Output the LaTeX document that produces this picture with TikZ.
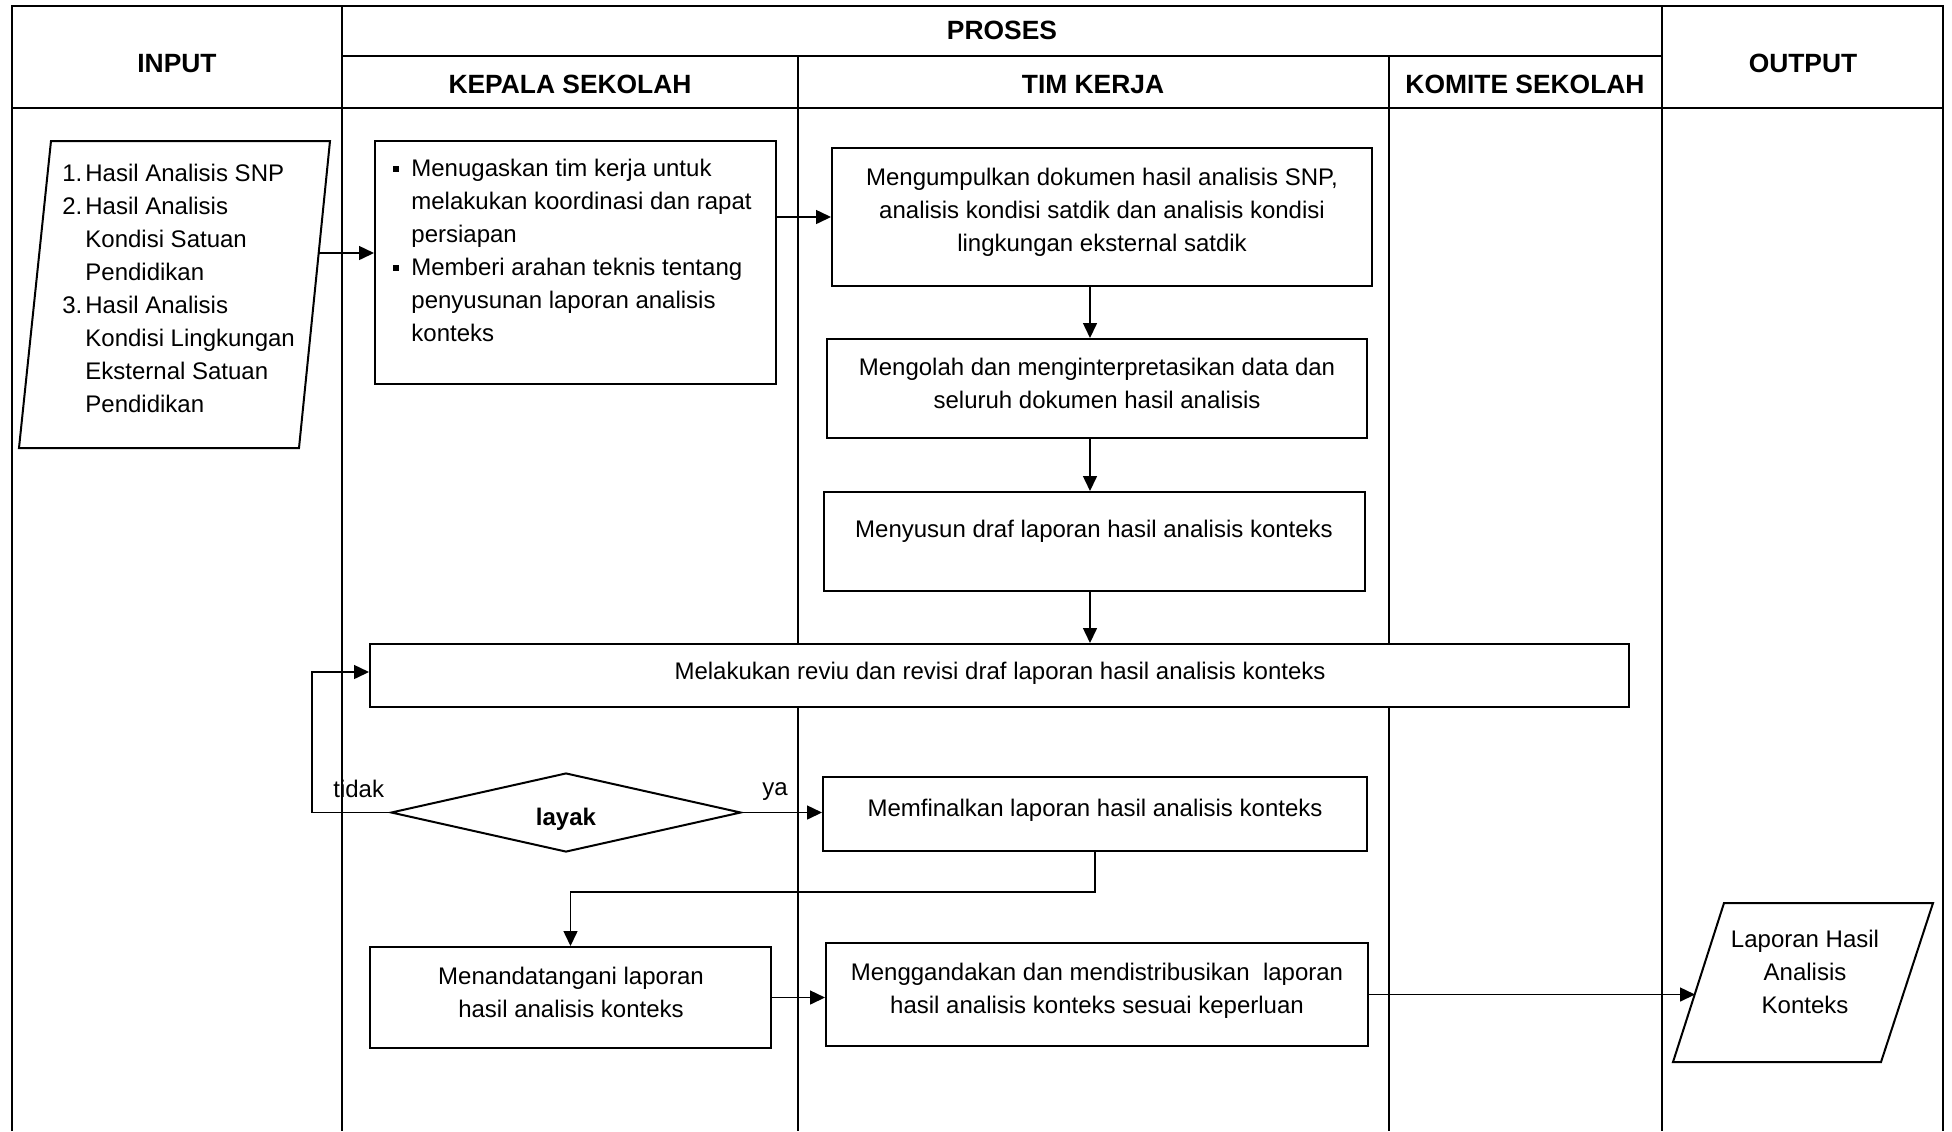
\documentclass[tikz,border=0pt]{standalone}
\usepackage{fontspec}
\setmainfont{Liberation Sans}
\usetikzlibrary{arrows.meta,shapes.geometric,fit}
\newcommand{\sqbul}{\rule[2.2pt]{3pt}{3pt}}
\begin{document}
\begin{tikzpicture}[x=0.5pt,y=-0.5pt,
  gridline/.style={line width=1.3pt},
  box/.style={draw, line width=1pt, fill=white, inner sep=0pt},
  arr/.style={line width=0.75pt, -{Triangle[length=7.5pt,width=7pt]}},
  txt/.style={inner sep=0pt, font=\fontsize{12}{16.5}\selectfont},
  hdr/.style={inner sep=0pt, font=\fontsize{13.2}{15}\selectfont\bfseries, anchor=base},
]
\useasboundingbox (0,0) rectangle (1952,1131);
\fill[white] (0,0) rectangle (1952,1131);

% table grid
\draw[gridline] (12,1131) -- (12,6) -- (1943,6) -- (1943,1131);
\draw[gridline] (12,108) -- (1943,108);
\draw[gridline] (342,56) -- (1662,56);
\draw[gridline] (342,6) -- (342,1131);
\draw[gridline] (1662,6) -- (1662,1131);
\draw[gridline] (798,56) -- (798,1131);
\draw[gridline] (1389,56) -- (1389,1131);

% headers
\node[hdr] (hin) at (177,72) {INPUT};
\node[hdr] (hpr) at (1002,39) {PROSES};
\node[hdr] (hks) at (570,93) {KEPALA SEKOLAH};
\node[hdr] (htk) at (1093,93) {TIM KERJA};
\node[hdr] (hkm) at (1525,93) {KOMITE SEKOLAH};
\node[hdr] (hout) at (1803,72) {OUTPUT};

% input parallelogram
\draw[line width=1pt, fill=white] (51,141) -- (330,141) -- (299,448) -- (19,448) -- cycle;
\coordinate (inA) at (319,253);
\node[txt, anchor=base west] (intext) at (62,181) {\begin{tabular}[t]{@{}l@{}}
\makebox[11.5pt][l]{1.}Hasil Analisis SNP\\
\makebox[11.5pt][l]{2.}Hasil Analisis\\
\hspace*{11.5pt}Kondisi Satuan\\
\hspace*{11.5pt}Pendidikan\\
\makebox[11.5pt][l]{3.}Hasil Analisis\\
\hspace*{11.5pt}Kondisi Lingkungan\\
\hspace*{11.5pt}Eksternal Satuan\\
\hspace*{11.5pt}Pendidikan
\end{tabular}};

% kepala sekolah box
\node[box, fit={(375,141)(776,384)}] (k1) {};
\node[txt, anchor=base west] (k1t) at (393,176) {\begin{tabular}[t]{@{}l@{}}
\makebox[9pt][l]{\sqbul}Menugaskan tim kerja untuk\\
\hspace*{9pt}melakukan koordinasi dan rapat\\
\hspace*{9pt}persiapan\\
\makebox[9pt][l]{\sqbul}Memberi arahan teknis tentang\\
\hspace*{9pt}penyusunan laporan analisis\\
\hspace*{9pt}konteks
\end{tabular}};

% tim kerja boxes
\node[box, fit={(832,148)(1372,286)}] (t1) {};
\node[txt, anchor=base] (t1t) at (1102,185) {\begin{tabular}[t]{@{}c@{}}
Mengumpulkan dokumen hasil analisis SNP,\\
analisis kondisi satdik dan analisis kondisi\\
lingkungan eksternal satdik
\end{tabular}};

\node[box, fit={(827,339)(1367,438)}] (t2) {};
\node[txt, anchor=base] (t2t) at (1097,375) {\begin{tabular}[t]{@{}c@{}}
Mengolah dan menginterpretasikan data dan\\
seluruh dokumen hasil analisis
\end{tabular}};

\node[box, fit={(824,492)(1365,591)}] (t3) {};
\node[txt, anchor=base] (t3t) at (1094,537) {Menyusun draf laporan hasil analisis konteks};

% review box
\node[box, fit={(370,644)(1629,707)}] (rev) {};
\node[txt, anchor=base] (revt) at (1000,679) {Melakukan reviu dan revisi draf laporan hasil analisis konteks};

% decision
\node[draw, diamond, line width=1pt, fill=white, minimum width=175pt, minimum height=39.5pt, inner sep=0pt] (d) at (566,812.5) {};
\node[txt, font=\fontsize{12}{16.5}\selectfont\bfseries, anchor=base] (dl) at (566,825) {layak};
\node[txt, anchor=base west] (tl) at (333,797) {tidak};
\node[txt, anchor=base west] (yl) at (762,795) {ya};

% finalize
\node[box, fit={(823,777)(1367,851)}] (fin) {};
\node[txt, anchor=base] (fint) at (1095,816) {Memfinalkan laporan hasil analisis konteks};

% sign
\node[box, fit={(370,947)(771,1048)}] (ttd) {};
\node[txt, anchor=base] (ttdt) at (571,984) {\begin{tabular}[t]{@{}c@{}}
Menandatangani laporan\\
hasil analisis konteks
\end{tabular}};

% distribute
\node[box, fit={(826,943)(1368,1046)}] (dist) {};
\node[txt, anchor=base] (distt) at (1097,980) {\begin{tabular}[t]{@{}c@{}}
Menggandakan dan mendistribusikan\ \ laporan\\
hasil analisis konteks sesuai keperluan
\end{tabular}};

% output parallelogram
\draw[line width=1pt, fill=white] (1724,903) -- (1933,903) -- (1881,1062) -- (1673,1062) -- cycle;
\coordinate (outA) at (1695,994.5);
\node[txt, anchor=base] (outt) at (1805,947) {\begin{tabular}[t]{@{}c@{}}
Laporan Hasil\\
Analisis\\
Konteks
\end{tabular}};

% connectors
\coordinate (vx) at (1090,0);
\coordinate (lx) at (312,0);
\draw[arr] (inA) -- (inA -| k1.west);
\draw[arr] (t1.west -| k1.east) -- (t1.west);
\draw[arr] (t1.south -| vx) -- (t2.north -| vx);
\draw[arr] (t2.south -| vx) -- (t3.north -| vx);
\draw[arr] (t3.south -| vx) -- (rev.north -| vx);
\draw[arr] (d.west) -- (d.west -| lx) |- ([yshift=1.75pt]rev.west);
\draw[arr] (d.east) -- (d.east -| fin.west);
\draw[arr] (fin.south) -- ++(0,40) -| (ttd.north);
\draw[arr] (ttd.east) -- (ttd.east -| dist.west);
\draw[arr] (dist.east) -- (outA);
\end{tikzpicture}
\end{document}
